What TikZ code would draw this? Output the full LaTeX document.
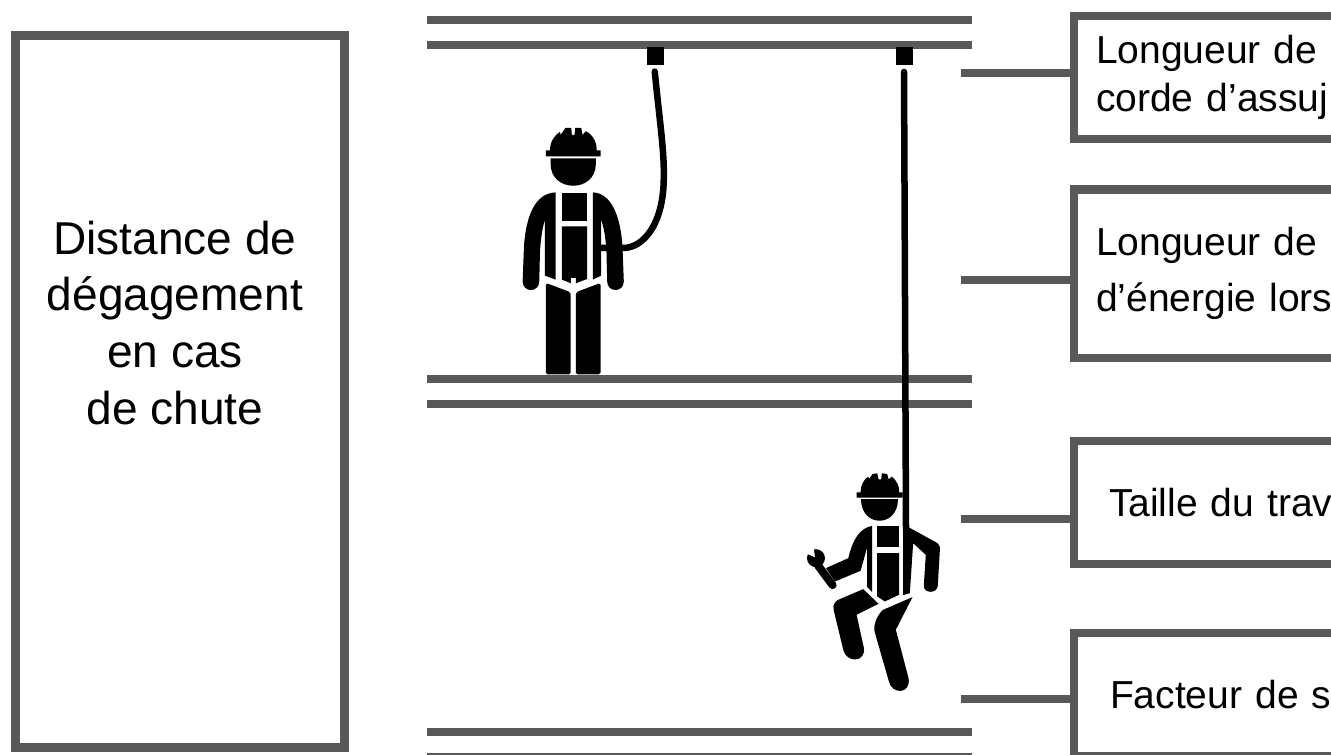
\documentclass[tikz,border=0pt]{standalone}
\usepackage{fontspec}
\setmainfont{Liberation Sans}
\usepackage{tikz}
\usetikzlibrary{calc,positioning}
\definecolor{ligne}{HTML}{595959}
\tikzset{
  panel/.style={draw=ligne,line width=0.085cm,anchor=north west,outer sep=0pt,text width=4cm,align=left,inner ysep=0pt,font=\fontsize{11.1}{13.6}\selectfont},
  amorce/.style={draw=ligne,line width=0.085cm},
  plancher/.style={draw=ligne,line width=0.08cm},
  corde/.style={draw=black,line width=0.065cm,line cap=round},
}

\begin{document}
\begin{tikzpicture}[x=0.01cm,y=-0.01cm]
\path[use as bounding box,clip] (0,0) rectangle (1331,755);
% floors
\foreach \y in {20,45,379,404,732,757} {\draw[plancher] (427,\y) -- (972,\y);}
% left box
\node[draw=ligne,line width=0.09cm,anchor=north west,outer sep=0pt,minimum width=3.29cm,minimum height=7.115cm] (degagement) at (15.5,36) {};
\node[align=center,font=\fontsize{13.1}{16.2}\selectfont] (distance) at (175,323) {Distance de\\ dégagement\\ en cas\\ de chute};
% right boxes
\node[panel,minimum height=1.23cm,inner xsep=0.22cm] (assuj) at (1074,16) {Longueur de\\ corde d’assuj};
\node[panel,minimum height=1.685cm,inner xsep=0.22cm,font=\fontsize{11.1}{15.9}\selectfont] (energie) at (1074,189.5) {Longueur de\\ d’énergie lors\\[0.12cm]};
\node[panel,minimum height=1.23cm,inner xsep=0.35cm] (taille) at (1074,441) {Taille du trav};
\node[panel,minimum height=1.23cm,inner xsep=0.36cm] (facteur) at (1074,633) {Facteur de s\\[0.06cm]};
% leaders
\foreach \b/\y in {assuj/73,energie/280,taille/519,facteur/699} {
  \coordinate (a\b) at (961,\y);
  \draw[amorce] (a\b) -- (a\b -| \b.west);
}
% anchors
\fill (647,47) rectangle (664,65);
\fill (896,47) rectangle (913,65);
% standing worker
\begin{scope}[shift={(500,40)},x=0.00333cm,y=-0.00333cm]
% lanyard
\draw[corde] (465,95) .. controls (478,230) and (495,340) .. (492,420) .. controls (490,555) and (430,625) .. (370,625) -- (300,625);
% helmet
\fill (138,332) -- (150,332) .. controls (150,305) and (165,285) .. (180,276) -- (182,285) -- (193,270) -- (196,264) -- (214,264) -- (216,285) -- (224,285) -- (226,264) -- (244,264) -- (248,285) -- (258,274) .. controls (280,285) and (292,310) .. (290,332) -- (302,332) -- (302,350) -- (138,350) -- cycle;
% head
\fill (152,356) -- (288,356) -- (288,372) .. controls (288,460) and (152,460) .. (152,372) -- cycle;
% harness panels
\fill (186,460) rectangle (262,545);
\fill (186,560) -- (262,560) -- (262,718) -- (228,731) -- (228,715) -- (213,715) -- (213,731) -- (186,720) -- cycle;
% arms and sides
\fill (167,458) .. controls (105,460) and (78,530) .. (72,620) -- (68,725) .. controls (68,760) and (118,760) .. (118,725) -- (120,640) .. controls (122,600) and (127,565) .. (135,540) -- (135,708) -- (167,720) -- cycle;
\fill (279,458) .. controls (335,460) and (362,530) .. (368,620) -- (372,725) .. controls (372,760) and (322,760) .. (322,725) -- (320,640) .. controls (318,600) and (313,565) .. (304,540) -- (304,708) -- (279,720) -- cycle;
% legs
\fill[rounded corners=0.5pt] (138,730) -- (212,758) -- (212,1005) -- (138,1005) -- cycle;
\fill[rounded corners=0.5pt] (228,758) -- (302,730) -- (302,1005) -- (228,1005) -- cycle;
\end{scope}
% suspended worker
\draw[corde] (904,72) -- (906,530);
\begin{scope}[shift={(790,460)},x=0.00333cm,y=-0.00333cm]
% helmet
\fill (200,97) -- (212,97) .. controls (212,75) and (222,58) .. (235,50) -- (238,57) -- (248,42) -- (262,40) -- (266,58) -- (274,58) -- (276,40) -- (292,42) -- (296,58) -- (306,50) .. controls (318,58) and (330,80) .. (328,97) -- (338,97) -- (338,113) -- (200,113) -- cycle;
% head
\fill (212,118) -- (325,118) .. controls (325,205) and (212,205) .. (212,118) -- cycle;
% harness panels
\fill (262,198) rectangle (328,262);
\fill (262,280) -- (328,280) -- (328,405) -- (285,425) -- (262,410) -- cycle;
% left arm with wrench
\fill (247,198) .. controls (210,205) and (190,235) .. (175,295) -- (108,325) -- (135,365) -- (212,333) -- (232,262) -- (232,382) -- (247,397) -- cycle;
\draw[corde,line width=0.08cm] (85,318) -- (128,376);
\fill (78,295) circle [radius=27];
\fill[white] (75,292) -- (49,281) -- (45,255) -- (70,255) -- (72,270) -- cycle;
% right arm
\fill (358,203) -- (440,248) .. controls (450,255) and (452,262) .. (450,275) -- (444,378) .. controls (442,402) and (402,402) .. (402,378) -- (408,285) -- (370,250) -- (360,400) -- (340,406) -- (340,203) -- cycle;
% legs
\fill (220,388) -- (266,432) -- (200,465) -- (222,565) .. controls (228,608) and (170,612) .. (160,570) -- (131,450) .. controls (128,435) and (135,425) .. (145,420) -- cycle;
\fill (368,412) -- (318,510) -- (356,655) .. controls (365,705) and (305,705) .. (297,665) -- (254,515) .. controls (250,495) and (262,465) .. (280,450) -- cycle;
\end{scope}
\end{tikzpicture}
\end{document}
